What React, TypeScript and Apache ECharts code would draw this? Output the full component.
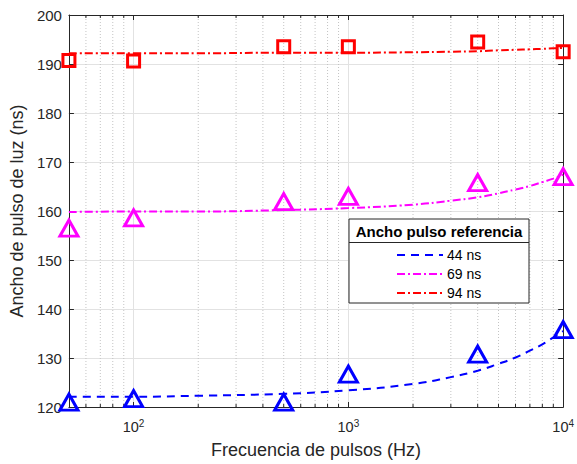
import React, { useEffect, useRef } from "react";
import * as echarts from "echarts";

const FONT = "'Liberation Sans', Arial, Helvetica, sans-serif";
const AXIS_COLOR = "#262626";

// Measured points (frequency in Hz, pulse width in ns)
const freqs = [50, 100, 500, 1000, 4000, 10000];
const meas44 = [121.0, 121.7, 121.0, 126.7, 130.8, 135.8];
const meas69 = [156.5, 158.6, 161.9, 163.0, 165.8, 167.0];
const meas94 = [190.7, 190.6, 193.5, 193.5, 194.5, 192.5];

// Fitted curves
const fitFreqs = [50, 100, 200, 500, 1000, 2000, 3000, 4000, 5000, 6000, 7000, 8000, 9000, 10000];
const fit44 = [122.1, 122.1, 122.3, 122.7, 123.4, 124.7, 126.1, 127.4, 128.8, 130.1, 131.5, 132.8, 134.2, 135.5];
const fit69 = [159.8, 159.9, 159.9, 160.2, 160.6, 161.3, 162.1, 162.8, 163.6, 164.4, 165.1, 165.9, 166.6, 167.4];
const fit94 = [192.2, 192.2, 192.2, 192.3, 192.3, 192.4, 192.5, 192.6, 192.8, 192.9, 193.0, 193.1, 193.2, 193.3];

// Minor log-scale grid positions
const minorX = [60, 70, 80, 90, 200, 300, 400, 500, 600, 700, 800, 900, 2000, 3000, 4000, 5000, 6000, 7000, 8000, 9000];

const yMin = 120;
const yMax = 200;
const yStep = 10;

const legendTitle = "Ancho pulso referencia";
const legendNames = ["44 ns", "69 ns", "94 ns"];
const colors = ["#0000ff", "#ff00ff", "#ff0000"];
const dashes = [[8, 6], [8, 3, 2, 3], [8, 3, 2, 3]];

const pairs = (xs: number[], ys: number[]) => xs.map((x, i) => [x, ys[i]]);

export default function App() {
  const ref = useRef<HTMLDivElement>(null);
  useEffect(() => {
    if (!ref.current) return;
    const chart = echarts.init(ref.current, undefined, { renderer: "svg" });
    const gridLeft = 64, gridTop = 15, gridW = 501, gridH = 393;

    const fits = [fit44, fit69, fit94];
    const meas = [meas44, meas69, meas94];
    const symbols = ["triangle", "triangle", "rect"];
    const sizes: any[] = [[18, 16], [18, 16], [12, 12]];

    const series: any[] = [
      {
        type: "custom",
        xAxisIndex: 0,
        yAxisIndex: 0,
        data: minorX.map((x) => [x, yMin]),
        encode: { x: 0, y: 1 },
        silent: true,
        z: 1,
        renderItem: (_p: any, api: any) => {
          const x = api.value(0);
          const b = api.coord([x, yMin]);
          const t = api.coord([x, yMax]);
          return {
            type: "group",
            children: [
              { type: "line", shape: { x1: b[0], y1: b[1], x2: t[0], y2: t[1] }, style: { stroke: "#c4c4c4", lineWidth: 1, lineDash: [1, 2] } },
              { type: "line", shape: { x1: b[0], y1: b[1], x2: b[0], y2: b[1] - 3 }, style: { stroke: AXIS_COLOR, lineWidth: 1 } },
              { type: "line", shape: { x1: t[0], y1: t[1], x2: t[0], y2: t[1] + 3 }, style: { stroke: AXIS_COLOR, lineWidth: 1 } },
            ],
          };
        },
      },
    ];
    for (let i = 0; i < 3; i++) {
      series.push({
        type: "line",
        name: legendNames[i],
        data: pairs(fitFreqs, fits[i]),
        showSymbol: false,
        smooth: true,
        lineStyle: { color: colors[i], width: 2, type: dashes[i], opacity: 1 },
        z: 3,
      });
      series.push({
        type: "scatter",
        data: pairs(freqs, meas[i]),
        symbol: symbols[i],
        symbolSize: sizes[i],
        clip: false,
        itemStyle: { color: "rgba(0,0,0,0)", borderColor: colors[i], borderWidth: 3, opacity: 1 },
        z: 4,
      });
    }

    const legendX = 349, legendY = 219, legendW = 180, legendH = 84;
    const entryY = [255, 274, 293];
    const graphicChildren: any[] = [
      { type: "rect", shape: { x: legendX, y: legendY, width: legendW, height: legendH }, style: { fill: "#ffffff", stroke: AXIS_COLOR, lineWidth: 1 }, z: 10 },
      { type: "line", shape: { x1: legendX, y1: 242.5, x2: legendX + legendW, y2: 242.5 }, style: { stroke: AXIS_COLOR, lineWidth: 1 }, z: 11 },
      { type: "text", x: legendX + legendW / 2, y: 231, style: { text: legendTitle, font: `bold 15px ${FONT}`, fill: "#000000", align: "center", verticalAlign: "middle" }, z: 11 },
    ];
    legendNames.forEach((n, i) => {
      graphicChildren.push({ type: "line", shape: { x1: 397, y1: entryY[i], x2: 443, y2: entryY[i] }, style: { stroke: colors[i], lineWidth: 2, lineDash: dashes[i] }, z: 11 });
      graphicChildren.push({ type: "text", x: 447, y: entryY[i], style: { text: n, font: `14px ${FONT}`, fill: "#000000", align: "left", verticalAlign: "middle" }, z: 11 });
    });

    const logLabel = (v: number) => {
      const e = Math.round(Math.log10(v));
      if (Math.abs(v - Math.pow(10, e)) < 1e-6 * v) return `{b|10}{e|${e}}`;
      return "";
    };

    chart.setOption({
      animation: false,
      backgroundColor: "#ffffff",
      grid: { left: gridLeft, top: gridTop, width: gridW, height: gridH, show: false },
      xAxis: [
        {
          type: "log",
          logBase: 10,
          min: 50,
          max: 10000,
          position: "bottom",
          name: "Frecuencia de pulsos (Hz)",
          nameLocation: "middle",
          nameGap: 34,
          nameTextStyle: { fontFamily: FONT, fontSize: 18, color: AXIS_COLOR },
          axisLine: { show: true, lineStyle: { color: AXIS_COLOR, width: 1 } },
          axisTick: { show: true, inside: true, length: 5, lineStyle: { color: AXIS_COLOR } },
          axisLabel: {
            formatter: logLabel,
            margin: 11,
            showMinLabel: false,
            color: AXIS_COLOR,
            fontFamily: FONT,
            rich: {
              b: { fontSize: 14.5, fontFamily: FONT, color: AXIS_COLOR },
              e: { fontSize: 10, fontFamily: FONT, color: AXIS_COLOR, padding: [0, 0, 8, 0] },
            },
          },
          splitLine: { show: true, lineStyle: { color: "#e2e2e2", width: 1 } },
        },
        {
          type: "log",
          logBase: 10,
          min: 50,
          max: 10000,
          position: "top",
          axisLine: { show: true, lineStyle: { color: AXIS_COLOR, width: 1 } },
          axisTick: { show: true, inside: true, length: 5, lineStyle: { color: AXIS_COLOR } },
          axisLabel: { show: false },
          splitLine: { show: false },
        },
      ],
      yAxis: [
        {
          type: "value",
          min: yMin,
          max: yMax,
          interval: yStep,
          position: "left",
          name: "Ancho de pulso de luz (ns)",
          nameLocation: "middle",
          nameGap: 34,
          nameTextStyle: { fontFamily: FONT, fontSize: 18, color: AXIS_COLOR },
          axisLine: { show: true, lineStyle: { color: AXIS_COLOR, width: 1 } },
          axisTick: { show: true, inside: true, length: 5, lineStyle: { color: AXIS_COLOR } },
          axisLabel: { color: AXIS_COLOR, fontFamily: FONT, fontSize: 15, margin: 7 },
          splitLine: { show: true, lineStyle: { color: "#e2e2e2", width: 1 } },
        },
        {
          type: "value",
          min: yMin,
          max: yMax,
          interval: yStep,
          position: "right",
          axisLine: { show: true, lineStyle: { color: AXIS_COLOR, width: 1 } },
          axisTick: { show: true, inside: true, length: 5, lineStyle: { color: AXIS_COLOR } },
          axisLabel: { show: false },
          splitLine: { show: false },
        },
      ],
      series,
      graphic: [{ type: "group", children: graphicChildren }],
    });
    return () => chart.dispose();
  }, []);
  return <div ref={ref} style={{ position: "fixed", left: 0, top: 0, width: 577, height: 464 }} />;
}
